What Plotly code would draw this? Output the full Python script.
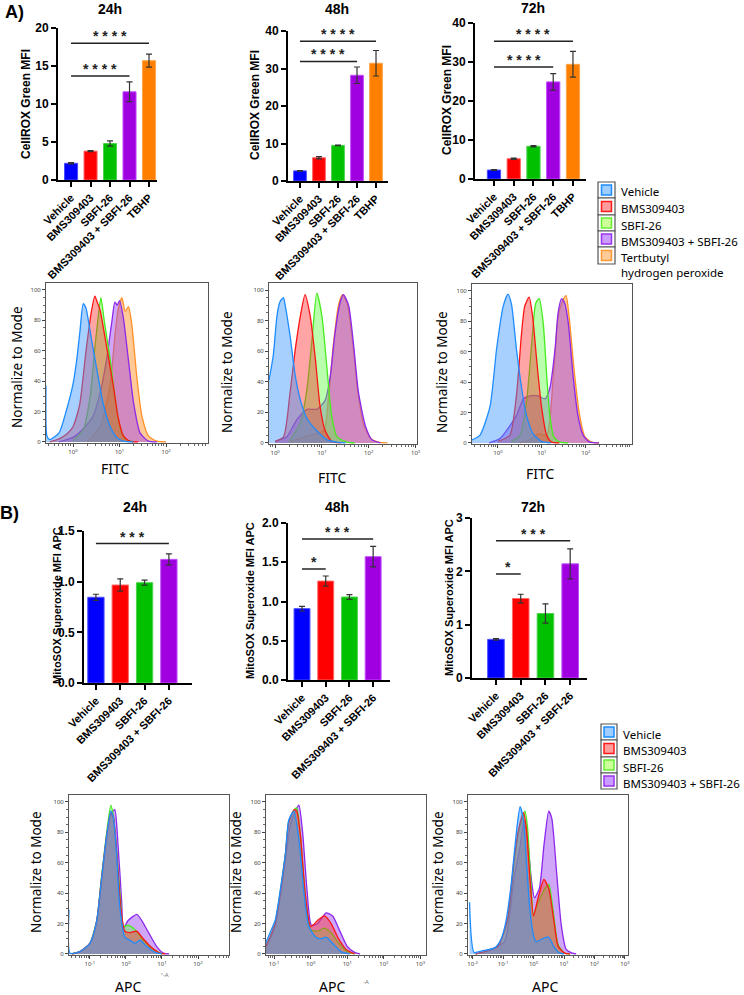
import plotly.graph_objects as go

W, H = 744, 995

# ---------------- data ----------------
groups_A = ["Vehicle", "BMS309403", "SBFI-26", "BMS309403 + SBFI-26", "TBHP"]
groups_B = ["Vehicle", "BMS309403", "SBFI-26", "BMS309403 + SBFI-26"]
bar_colors = ["#0000ff", "#ff0000", "#00c000", "#a000e0", "#ff8000"]
bar_edges = ["#4d4dff", "#ff6666", "#4dd24d", "#c04dff", "#ffa64d"]

cellrox_24h = [2.2, 3.8, 4.8, 11.6, 15.7]
cellrox_24h_err = [0.08, 0.06, 0.35, 1.3, 0.85]
cellrox_48h = [2.7, 6.2, 9.5, 28.2, 31.4]
cellrox_48h_err = [0.1, 0.3, 0.1, 2.2, 3.4]
cellrox_72h = [2.3, 5.2, 8.4, 24.9, 29.4]
cellrox_72h_err = [0.08, 0.15, 0.15, 2.1, 3.3]

mitosox_24h = [0.846, 0.967, 0.99, 1.22]
mitosox_24h_err = [0.03, 0.06, 0.025, 0.055]
mitosox_48h = [0.909, 1.26, 1.057, 1.571]
mitosox_48h_err = [0.03, 0.065, 0.03, 0.13]
mitosox_72h = [0.725, 1.49, 1.21, 2.14]
mitosox_72h_err = [0.015, 0.08, 0.18, 0.28]

# significance brackets: (from group, to group, level, label)
sig_A24 = [(0, 3, 13.7, "* * * *"), (0, 4, 18.0, "* * * *")]
sig_A48 = [(0, 3, 31.9, "* * * *"), (0, 4, 37.3, "* * * *")]
sig_A72 = [(0, 3, 28.7, "* * * *"), (0, 4, 35.3, "* * * *")]
sig_B24 = [(0, 3, 1.376, "* * *")]
sig_B48 = [(0, 1, 1.414, "*"), (0, 3, 1.796, "* * *")]
sig_B72 = [(0, 1, 1.95, "*"), (0, 3, 2.575, "* * *")]

# flow histograms: (log10 intensity, % of mode)
fitc24_vehicle = [(-0.58, 37), (-0.56, 4), (-0.5, 1.5), (-0.3, 6), (-0.14, 21), (0.0, 38), (0.08, 54), (0.15, 73), (0.22, 91), (0.28, 88), (0.33, 80), (0.4, 67), (0.51, 48), (0.65, 25), (0.8, 10), (0.94, 3), (1.08, 0.5), (1.3, 0)]
fitc24_bms = [(-0.5, 0), (-0.3, 2), (-0.14, 5), (0.0, 10), (0.14, 24), (0.28, 60), (0.39, 85), (0.47, 96), (0.52, 92), (0.58, 87), (0.72, 63), (0.87, 36), (0.97, 16), (1.08, 4), (1.22, 0.5), (1.4, 0)]
fitc24_sbfi = [(0.0, 1), (0.22, 8), (0.37, 30), (0.47, 62), (0.54, 82), (0.6, 95), (0.67, 80), (0.8, 54), (0.9, 30), (1.01, 10), (1.12, 2), (1.3, 0)]
fitc24_combo = [(-0.3, 0), (0.0, 3), (0.2, 8), (0.43, 17), (0.58, 32), (0.72, 54), (0.83, 78), (0.9, 92), (0.95, 90), (1.0, 93), (1.08, 82), (1.19, 54), (1.3, 26), (1.44, 6), (1.62, 0.5), (1.8, 0)]
fitc24_tbhp = [(0.3, 0), (0.58, 10), (0.8, 38), (0.9, 70), (0.97, 87), (1.05, 95), (1.12, 86), (1.19, 89), (1.26, 78), (1.37, 43), (1.48, 17), (1.62, 4), (1.8, 0.5), (2.0, 0)]

fitc48_vehicle = [(-0.13, 41), (-0.04, 57), (0.04, 83), (0.1, 92), (0.14, 94), (0.18, 95), (0.21, 91), (0.32, 70), (0.43, 44), (0.54, 28), (0.68, 16), (0.89, 8), (1.11, 2), (1.32, 0.5), (1.5, 0)]
fitc48_bms = [(0.0, 1), (0.18, 4), (0.32, 33), (0.43, 61), (0.54, 83), (0.64, 97), (0.75, 83), (0.86, 55), (0.96, 24), (1.07, 8), (1.21, 1), (1.4, 0)]
fitc48_sbfi = [(0.3, 1), (0.54, 13), (0.68, 35), (0.79, 68), (0.89, 98), (1.0, 83), (1.11, 48), (1.21, 17), (1.32, 4), (1.54, 0.5), (1.7, 0)]
fitc48_combo = [(0.0, 1), (0.25, 4), (0.46, 15), (0.68, 22), (0.89, 22), (1.07, 28), (1.18, 44), (1.28, 72), (1.39, 92), (1.46, 97), (1.57, 90), (1.68, 63), (1.78, 33), (1.93, 11), (2.07, 2), (2.25, 0)]
fitc48_tbhp = [(0.32, 1), (0.75, 5), (1.04, 8), (1.14, 30), (1.25, 66), (1.36, 91), (1.44, 97), (1.54, 91), (1.66, 65), (1.76, 35), (1.89, 12), (2.04, 3), (2.21, 0.5), (2.4, 0)]

fitc72_vehicle = [(-0.59, 2), (-0.41, 5), (-0.18, 24), (-0.03, 62), (0.12, 90), (0.23, 98), (0.31, 91), (0.42, 62), (0.54, 36), (0.65, 18), (0.8, 6), (0.99, 1), (1.2, 0)]
fitc72_bms = [(0.0, 1), (0.27, 5), (0.42, 31), (0.54, 73), (0.61, 90), (0.71, 96), (0.79, 83), (0.88, 55), (0.99, 24), (1.11, 5), (1.22, 0.5), (1.4, 0)]
fitc72_sbfi = [(0.3, 1), (0.5, 5), (0.65, 27), (0.77, 66), (0.86, 92), (0.94, 95), (1.03, 79), (1.11, 44), (1.18, 18), (1.27, 4), (1.41, 0.5), (1.6, 0)]
fitc72_combo = [(-0.2, 0), (0.05, 3), (0.42, 18), (0.58, 29), (0.73, 31), (0.92, 31), (1.07, 29), (1.18, 36), (1.3, 62), (1.37, 86), (1.45, 95), (1.52, 92), (1.6, 79), (1.71, 44), (1.82, 18), (1.94, 5), (2.09, 0.5), (2.3, 0)]
fitc72_tbhp = [(0.5, 0), (0.73, 2), (0.92, 6), (1.11, 5), (1.26, 44), (1.37, 83), (1.48, 94), (1.55, 97), (1.62, 83), (1.74, 46), (1.86, 18), (1.98, 4), (2.14, 0.5), (2.3, 0)]

apc24_vehicle = [(-1.58, 29), (-1.55, 0.5), (-1.28, 1.5), (-1.0, 7), (-0.81, 22), (-0.68, 49), (-0.54, 77), (-0.42, 94), (-0.35, 90), (-0.26, 66), (-0.17, 31), (-0.03, 11), (0.11, 9), (0.25, 7), (0.39, 9), (0.57, 5), (0.81, 1), (1.0, 0)]
apc24_bms = [(-1.5, 0), (-1.28, 1.5), (-1.0, 7), (-0.81, 22), (-0.68, 49), (-0.54, 77), (-0.42, 93), (-0.35, 90), (-0.26, 68), (-0.15, 32), (-0.03, 15), (0.11, 14), (0.3, 15), (0.48, 10), (0.72, 4), (0.94, 0.5), (1.1, 0)]
apc24_sbfi = [(-1.5, 0), (-1.28, 1.5), (-1.0, 7), (-0.81, 22), (-0.68, 50), (-0.54, 79), (-0.42, 98), (-0.35, 91), (-0.26, 68), (-0.15, 35), (-0.07, 18), (0.06, 19), (0.25, 16), (0.48, 9), (0.76, 3), (1.0, 0)]
apc24_combo = [(-1.5, 0), (-1.28, 1.5), (-1.0, 7), (-0.81, 21), (-0.68, 47), (-0.54, 75), (-0.42, 92), (-0.31, 95), (-0.22, 72), (-0.12, 35), (-0.07, 17), (0.06, 22), (0.3, 26), (0.44, 22), (0.63, 14), (0.85, 5), (1.04, 0.5), (1.2, 0)]

apc48_vehicle = [(-1.23, 7), (-1.11, 14), (-0.97, 22), (-0.83, 42), (-0.69, 66), (-0.6, 88), (-0.46, 94), (-0.32, 75), (-0.19, 42), (-0.05, 18), (0.14, 11), (0.28, 10), (0.42, 11), (0.6, 7), (0.83, 1.5), (1.06, 0)]
apc48_bms = [(-1.22, 5), (-1.11, 11), (-0.97, 20), (-0.83, 40), (-0.69, 65), (-0.6, 86), (-0.45, 95), (-0.38, 94), (-0.28, 78), (-0.15, 40), (0.0, 18), (0.19, 22), (0.37, 25), (0.56, 20), (0.74, 11), (0.97, 3), (1.2, 0)]
apc48_sbfi = [(-1.22, 5), (-1.11, 11), (-0.97, 20), (-0.83, 41), (-0.69, 66), (-0.6, 87), (-0.45, 95), (-0.38, 96), (-0.28, 78), (-0.15, 40), (0.0, 16), (0.19, 15), (0.37, 17), (0.56, 14), (0.74, 8), (0.97, 2), (1.2, 0)]
apc48_combo = [(-1.22, 5), (-1.11, 10), (-0.97, 18), (-0.83, 38), (-0.69, 62), (-0.55, 85), (-0.4, 95), (-0.32, 98), (-0.22, 80), (-0.1, 42), (0.02, 19), (0.19, 20), (0.42, 27), (0.6, 25), (0.78, 16), (1.0, 5), (1.2, 1), (1.35, 0)]

apc72_vehicle = [(-2.1, 34), (-1.95, 1), (-1.69, 2), (-1.27, 4), (-1.06, 10), (-0.91, 21), (-0.75, 43), (-0.54, 84), (-0.44, 97), (-0.33, 88), (-0.23, 60), (-0.13, 32), (-0.02, 14), (0.08, 8), (0.29, 10), (0.5, 11), (0.66, 5), (0.86, 0.5), (1.0, 0)]
apc72_bms = [(-1.9, 0), (-1.6, 1.5), (-1.17, 5), (-0.85, 23), (-0.65, 60), (-0.49, 82), (-0.33, 93), (-0.23, 82), (-0.13, 53), (0.0, 25), (0.14, 36), (0.34, 49), (0.5, 43), (0.66, 23), (0.81, 5), (1.02, 0.5), (1.2, 0)]
apc72_sbfi = [(-1.9, 0), (-1.6, 1.5), (-1.17, 5), (-0.85, 22), (-0.65, 58), (-0.49, 80), (-0.28, 94), (-0.2, 84), (-0.1, 52), (0.0, 26), (0.14, 33), (0.34, 42), (0.5, 46), (0.66, 26), (0.81, 6), (1.02, 0.5), (1.2, 0)]
apc72_combo = [(-1.9, 0), (-1.6, 1.5), (-0.96, 8), (-0.65, 49), (-0.44, 71), (-0.31, 88), (-0.2, 75), (-0.07, 49), (0.03, 37), (0.19, 43), (0.34, 71), (0.5, 94), (0.6, 89), (0.76, 53), (0.91, 19), (1.07, 3), (1.27, 0.5), (1.4, 0)]

legend_A = ["Vehicle", "BMS309403", "SBFI-26", "BMS309403 + SBFI-26", "Tertbutyl<br>hydrogen peroxide"]
legend_B = ["Vehicle", "BMS309403", "SBFI-26", "BMS309403 + SBFI-26"]

# histogram styling per population
hist_line = {"vehicle": "rgb(30,140,255)", "bms": "rgb(255,20,20)", "sbfi": "rgb(70,235,30)",
             "combo": "rgb(140,40,235)", "tbhp": "rgb(255,145,40)"}
hist_fill = {"vehicle": "rgba(60,150,255,0.45)", "bms": "rgba(255,40,40,0.42)", "sbfi": "rgba(90,255,60,0.42)",
             "combo": "rgba(150,60,240,0.45)", "tbhp": "rgba(255,150,50,0.5)"}
leg_fill = ["#9fcdff", "#ff9c9c", "#ccff99", "#cc9cff", "#ffcc99"]
leg_line = ["#1e8cff", "#ff1a1a", "#66ee33", "#9933ee", "#ff9933"]

# ---------------- figure ----------------
fig = go.Figure()
annotations = []
shapes = []
BOLD = "Liberation Sans"
SANS = "Noto Sans"


def dx(l, r):
    return [l / W, r / W]


def dy(t, b):
    return [1 - b / H, 1 - t / H]


def axname(i):
    return ("xaxis" if i == 1 else f"xaxis{i}", "yaxis" if i == 1 else f"yaxis{i}",
            "x" if i == 1 else f"x{i}", "y" if i == 1 else f"y{i}")


def pann(x, y, text, size, family=BOLD, bold=False, angle=0, color="black", xanchor="center", yanchor="middle"):
    annotations.append(dict(x=x / W, y=1 - y / H, xref="paper", yref="paper", text=text, showarrow=False,
                            textangle=angle, xanchor=xanchor, yanchor=yanchor,
                            font=dict(family=family, size=size, color=color, weight="bold" if bold else "normal")))


layout_axes = {}


def bar_panel(i, cats, vals, errs, sigs, xpx, ypx, xr, yr, yticks, ytickfmt):
    xa, ya, xr_id, yr_id = axname(i)
    n = len(cats)
    fig.add_trace(go.Bar(x=list(range(n)), y=vals, width=0.67,
                         marker=dict(color=bar_colors[:n], line=dict(color=bar_edges[:n], width=1)),
                         error_y=dict(type="data", array=errs, color="#333333", thickness=1.2, width=3),
                         xaxis=xr_id, yaxis=yr_id, showlegend=False, hoverinfo="skip"))
    layout_axes[xa] = dict(domain=dx(*xpx), range=xr, anchor=yr_id, tickmode="array", automargin=False,
                           tickvals=list(range(n)), ticktext=cats, tickangle=-45,
                           tickfont=dict(family=BOLD, size=11, color="black", weight="bold"),
                           ticks="outside", ticklen=5, tickwidth=1.5, tickcolor="black",
                           showline=True, linecolor="black", linewidth=2, showgrid=False, zeroline=False)
    layout_axes[ya] = dict(domain=dy(*ypx), range=yr, anchor=xr_id, tickmode="array", automargin=False,
                           tickvals=yticks, ticktext=[ytickfmt.format(v) for v in yticks],
                           tickfont=dict(family=BOLD, size=12, color="black", weight="bold"),
                           ticks="outside", ticklen=5, tickwidth=1.5, tickcolor="black",
                           showline=True, linecolor="black", linewidth=2, showgrid=False, zeroline=False)
    for a, b, lvl, lab in sigs:
        shapes.append(dict(type="line", xref=xr_id, yref=yr_id, x0=a, x1=b, y0=lvl, y1=lvl,
                           line=dict(color="#222222", width=1.5)))
        annotations.append(dict(x=(a + b) / 2, y=lvl, xref=xr_id, yref=yr_id, text=lab, showarrow=False,
                                xanchor="center", yanchor="bottom", yshift=-3,
                                font=dict(family=BOLD, size=14, color="#222222", weight="bold")))


def hist_panel(i, curves, xpx, ypx, xr, decades):
    xa, ya, xr_id, yr_id = axname(i)
    for key, pts in curves:
        fig.add_trace(go.Scatter(x=[10 ** p[0] for p in pts], y=[p[1] for p in pts], mode="lines",
                                 line=dict(color=hist_line[key], width=1.3, shape="spline", smoothing=0.6),
                                 fill="tozeroy", fillcolor=hist_fill[key],
                                 xaxis=xr_id, yaxis=yr_id, showlegend=False, hoverinfo="skip"))
    layout_axes[xa] = dict(domain=dx(*xpx), type="log", range=xr, anchor=yr_id, tickmode="array", automargin=False,
                           tickvals=[10 ** d for d in decades], ticktext=[f"10<sup>{d}</sup>" for d in decades],
                           tickfont=dict(family=SANS, size=6, color="#444444"),
                           ticks="outside", ticklen=3, tickwidth=1, tickcolor="#444444",
                           minor=dict(ticks="outside", ticklen=2, tickcolor="#666666", dtick="D1", showgrid=False),
                           showline=True, mirror=True, linecolor="#555555", linewidth=1,
                           showgrid=False, zeroline=False)
    layout_axes[ya] = dict(domain=dy(*ypx), range=[-0.7, 104.6], anchor=xr_id, tickmode="array", automargin=False,
                           tickvals=[0, 20, 40, 60, 80, 100],
                           tickfont=dict(family=SANS, size=6, color="#444444"),
                           ticks="outside", ticklen=3, tickwidth=1, tickcolor="#444444",
                           minor=dict(ticks="outside", ticklen=2, tickcolor="#666666", dtick=5, showgrid=False),
                           showline=True, mirror=True, linecolor="#555555", linewidth=1,
                           showgrid=False, zeroline=False)


# --- Panel A bars
bar_panel(1, groups_A, cellrox_24h, cellrox_24h_err, sig_A24, (58, 157), (28, 180), [-0.67, 4.41], [0, 20], [0, 5, 10, 15, 20], "{:d}")
bar_panel(2, groups_A, cellrox_48h, cellrox_48h_err, sig_A48, (288, 388), (31, 181), [-0.63, 4.63], [0, 40], [0, 10, 20, 30, 40], "{:d}")
bar_panel(3, groups_A, cellrox_72h, cellrox_72h_err, sig_A72, (475, 586), (23, 179), [-0.96, 4.66], [0, 40], [0, 10, 20, 30, 40], "{:d}")
# --- Panel B bars
bar_panel(4, groups_B, mitosox_24h, mitosox_24h_err, sig_B24, (84, 192), (531, 683), [-0.49, 3.95], [0, 1.5], [0, 0.5, 1.0, 1.5], "{:.1f}")
bar_panel(5, groups_B, mitosox_48h, mitosox_48h_err, sig_B48, (288, 390), (523, 680), [-0.59, 3.71], [0, 2.0], [0, 0.5, 1.0, 1.5, 2.0], "{:.1f}")
bar_panel(6, groups_B, mitosox_72h, mitosox_72h_err, sig_B72, (472, 587), (518, 678), [-0.97, 3.68], [0, 3], [0, 1, 2, 3], "{:d}")

# --- histograms (drawn orange -> purple -> green -> red -> blue)
hist_panel(7, [("tbhp", fitc24_tbhp), ("combo", fitc24_combo), ("sbfi", fitc24_sbfi), ("bms", fitc24_bms), ("vehicle", fitc24_vehicle)],
           (46, 208), (283, 443), [-0.58, 2.9], [0, 1, 2])
hist_panel(8, [("tbhp", fitc48_tbhp), ("combo", fitc48_combo), ("sbfi", fitc48_sbfi), ("bms", fitc48_bms), ("vehicle", fitc48_vehicle)],
           (269, 417), (283, 444), [-0.13, 3.03], [0, 1, 2, 3])
hist_panel(9, [("tbhp", fitc72_tbhp), ("combo", fitc72_combo), ("sbfi", fitc72_sbfi), ("bms", fitc72_bms), ("vehicle", fitc72_vehicle)],
           (472, 632), (284, 444), [-0.59, 3.05], [0, 1, 2])
hist_panel(10, [("combo", apc24_combo), ("sbfi", apc24_sbfi), ("bms", apc24_bms), ("vehicle", apc24_vehicle)],
           (69, 229), (795, 955), [-1.58, 2.86], [-1, 0, 1, 2])
hist_panel(11, [("combo", apc48_combo), ("sbfi", apc48_sbfi), ("bms", apc48_bms), ("vehicle", apc48_vehicle)],
           (266, 426), (795, 955), [-1.22, 3.15], [-1, 0, 1, 2, 3])
hist_panel(12, [("combo", apc72_combo), ("sbfi", apc72_sbfi), ("bms", apc72_bms), ("vehicle", apc72_vehicle)],
           (468, 628), (795, 955), [-2.15, 3.1], [-2, -1, 0, 1, 2, 3])

# --- text labels
pann(14, 12, "A)", 18, bold=True)
pann(9, 513, "B)", 18, bold=True)
for x, y, t in [(110, 9, "24h"), (337, 9, "48h"), (533, 8, "72h"),
                (135, 507, "24h"), (337, 507, "48h"), (533, 507, "72h")]:
    pann(x, y, t, 14, bold=True)
for x, y in [(26, 104), (255, 105), (447, 100)]:
    pann(x, y, "CellROX Green MFI", 12, bold=True, angle=-90)
for x, y in [(57, 606), (250, 600), (449, 598)]:
    pann(x, y, "MitoSOX Superoxide MFI APC", 11, bold=True, angle=-90)
for x, y in [(17, 367), (227, 372), (442, 372), (36, 872), (236, 872), (438, 872)]:
    pann(x, y, "Normalize to Mode", 13.5, family=SANS, angle=-90)
for x, y in [(115, 468), (332, 477), (540, 473)]:
    pann(x, y, "FITC", 14, family=SANS)
for x, y in [(128, 986), (332, 986), (545, 986)]:
    pann(x, y, "APC", 14, family=SANS)
pann(165, 975, "ᶜ-A", 6, family=SANS, color="#777777")
pann(366, 982, "-A", 6, family=SANS, color="#777777")


# --- legends
def legend(entries, tops, x0, x1):
    for k, (lab, (t, b)) in enumerate(zip(entries, tops)):
        shapes.append(dict(type="rect", xref="paper", yref="paper", x0=x0 / W, x1=x1 / W,
                           y0=1 - b / H, y1=1 - t / H, line=dict(color="#555555", width=1.2), fillcolor="white"))
        cx, cy = (x0 + x1) / 2, (t + b) / 2
        shapes.append(dict(type="rect", xref="paper", yref="paper", x0=(cx - 5) / W, x1=(cx + 5) / W,
                           y0=1 - (cy + 5) / H, y1=1 - (cy - 5) / H,
                           line=dict(color=leg_line[k], width=1.5), fillcolor=leg_fill[k]))
        annotations.append(dict(x=(x1 + 4) / W, y=1 - (cy - 7.5) / H, xref="paper", yref="paper", text=lab,
                                showarrow=False, xanchor="left", yanchor="top", align="left",
                                font=dict(family=SANS, size=11.5, color="black")))


legend(legend_A, [(182, 198), (198, 215), (215, 231), (231, 247), (247, 264)], 598, 615)
legend(legend_B, [(724, 740), (740, 757), (757, 773), (773, 789)], 601, 617)

fig.update_layout(template="none", width=W, height=H, autosize=False,
                  margin=dict(l=0, r=0, t=0, b=0, pad=0, autoexpand=False),
                  paper_bgcolor="white", plot_bgcolor="rgba(0,0,0,0)", showlegend=False,
                  annotations=annotations, shapes=shapes, **layout_axes)
fig.write_html("out.html", config={"responsive": False, "displayModeBar": False},
               post_script="document.body.style.margin='0px';document.body.style.padding='0px';")
